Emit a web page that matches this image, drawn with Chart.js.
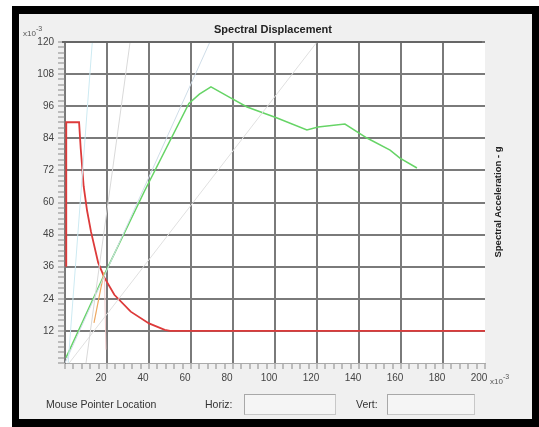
<!DOCTYPE html>
<html>
<head>
<meta charset="utf-8">
<script src="https://cdn.jsdelivr.net/npm/chart.js@4"></script>
<style>
    body { margin: 0; background: #fff; font-family: "Liberation Sans", Arial, sans-serif; }
    #wrap { position: relative; width: 539px; height: 427px; overflow: hidden; }
    .frame { position: absolute; left: 12px; top: 6px; width: 527px; height: 421px; box-sizing: border-box;
             border: solid #000; border-width: 8px 7px 8px 7px; background: #f0f0f0; }
    canvas { position: absolute; left: 0; top: 0; }
    .txt { position: absolute; color: #333; white-space: nowrap; }
    .box { position: absolute; height: 21px; background: #f5f5f5; border: 1px solid #c8c8c8;
           border-top-color: #a8a8a8; border-left-color: #a8a8a8; box-sizing: border-box; }
    sup { font-size: 7px; position: relative; top: -1px; }
</style>
</head>
<body>
<div id="wrap">
    <div class="frame"></div>
    <canvas id="chart" width="539" height="427"></canvas>
    <div class="txt" style="left:214px;top:23px;font-size:11px;font-weight:bold;color:#222;">Spectral Displacement</div>
    <div class="txt" style="left:23px;top:26px;font-size:8px;color:#555;">x10<sup>-3</sup></div>
    <div class="txt" style="left:490px;top:374px;font-size:8px;color:#555;">x10<sup>-3</sup></div>
    <div class="txt" style="left:497px;top:202px;font-size:9.5px;font-weight:bold;color:#222;transform:translate(-50%,-50%) rotate(-90deg);">Spectral Acceleration - g</div>
    <div class="txt" style="left:46px;top:398px;font-size:10.5px;">Mouse Pointer Location</div>
    <div class="txt" style="left:205px;top:398px;font-size:10.5px;">Horiz:</div>
    <div class="box" style="left:244px;top:394px;width:92px;"></div>
    <div class="txt" style="left:356px;top:398px;font-size:10.5px;">Vert:</div>
    <div class="box" style="left:387px;top:394px;width:88px;"></div>
</div>
<script>
// spectral displacement (x10^-3) and spectral acceleration (x10^-3 g)
const capacityX = [0.5, 19, 38, 59, 64, 69.5, 78, 86.7, 101, 115.2, 120.5, 133.3, 143.8, 154.8, 159.5, 167.6];
const capacityY = [2, 33.5, 64.5, 97, 100.5, 103.2, 99.5, 95.7, 91.6, 87.1, 88.2, 89.3, 84.1, 79.6, 76.6, 72.9];

const demandX = [0.6, 0.6, 6.7, 7.5, 8.9, 10.5, 12.4, 15.8, 18.7, 23.5, 31.3, 40, 47.5, 50, 200];
const demandY = [36, 90, 90, 80, 66, 57, 49, 37.5, 32, 25.5, 19.2, 14.8, 12.4, 12, 12];

// faint reference lines
const refA_X = [10, 31];   const refA_Y = [0, 120];
const refB_X = [0, 69];    const refB_Y = [0, 120];
const refC_X = [2, 120];   const refC_Y = [0, 120];
const refD_X = [1.5, 13];  const refD_Y = [0, 120];
const orangeX = [13.8, 18.6];  const orangeY = [15, 34];
const pinkX = [19.5, 18.8];    const pinkY = [5, 32];

const xMajor = 20, yMajor = 12;

function pts(xs, ys) {
    return xs.map((x, i) => ({ x: x, y: ys[i] }));
}

function line(xs, ys, color, width, clip) {
    return {
        data: pts(xs, ys),
        borderColor: color,
        borderWidth: width,
        showLine: true,
        pointRadius: 0,
        tension: 0,
        clip: clip === undefined ? 0 : clip
    };
}

// white plot area + top border line
const plotBg = {
    id: 'plotBg',
    beforeDraw(chart) {
        const a = chart.chartArea, c = chart.ctx;
        c.save();
        c.fillStyle = '#fff';
        c.fillRect(a.left, a.top, a.right - a.left, a.bottom - a.top);
        c.restore();
    },
    afterDatasetsDraw(chart) {
        const a = chart.chartArea, c = chart.ctx;
        c.save();
        c.strokeStyle = '#666';
        c.lineWidth = 2;
        c.beginPath();
        c.moveTo(a.left - 3, a.top);
        c.lineTo(a.right - 3, a.top);
        c.stroke();
        c.restore();
    }
};

// only major values get a grid line, the far edge stays open
const gridCol = (major, last) => (ctx) => {
    const v = ctx.tick && ctx.tick.value;
    if (v === undefined || v % major !== 0 || v === last) return 'rgba(0,0,0,0)';
    return '#7a7a7a';
};

new Chart(document.getElementById('chart'), {
    type: 'scatter',
    data: {
        datasets: [
            line(refD_X, refD_Y, '#cdeaf2', 1),
            line(refA_X, refA_Y, '#d9d9d9', 1),
            line(refB_X, refB_Y, '#cfdde8', 1),
            line(refC_X, refC_Y, '#e0e0e0', 1),
            line(pinkX, pinkY, '#f0caca', 1),
            line(orangeX, orangeY, '#eea860', 1.2),
            line(capacityX, capacityY, '#66d466', 1.5),
            line(demandX, demandY, '#dd3a3a', 1.8, false)
        ]
    },
    options: {
        responsive: false,
        animation: false,
        events: [],
        layout: { padding: { top: 42, right: 54, left: 0, bottom: 0 } },
        plugins: { legend: { display: false }, tooltip: { enabled: false } },
        scales: {
            x: {
                type: 'linear',
                min: 0,
                max: 200,
                afterFit(scale) { scale.height = 64; },
                ticks: {
                    stepSize: 4,
                    autoSkip: false,
                    maxRotation: 0,
                    padding: 3,
                    labelOffset: -6,
                    color: '#444',
                    font: { family: 'Liberation Sans', size: 10 },
                    callback: (v) => (v % xMajor === 0 && v > 0) ? String(v) : ''
                },
                grid: {
                    color: gridCol(xMajor, 200),
                    lineWidth: 2,
                    tickColor: '#888',
                    tickWidth: 1,
                    tickLength: 6
                },
                border: { color: '#aaa', width: 1 }
            },
            y: {
                type: 'linear',
                min: 0,
                max: 120,
                afterFit(scale) { scale.width = 65; },
                ticks: {
                    stepSize: 2,
                    autoSkip: false,
                    padding: 4,
                    color: '#444',
                    font: { family: 'Liberation Sans', size: 10 },
                    callback: (v) => (v % yMajor === 0 && v > 0) ? String(v) : ''
                },
                grid: {
                    color: gridCol(yMajor, 0),
                    lineWidth: 2,
                    tickColor: '#888',
                    tickWidth: 1,
                    tickLength: 7
                },
                border: { color: '#777', width: 1 }
            }
        }
    },
    plugins: [plotBg]
});
</script>
</body>
</html>
